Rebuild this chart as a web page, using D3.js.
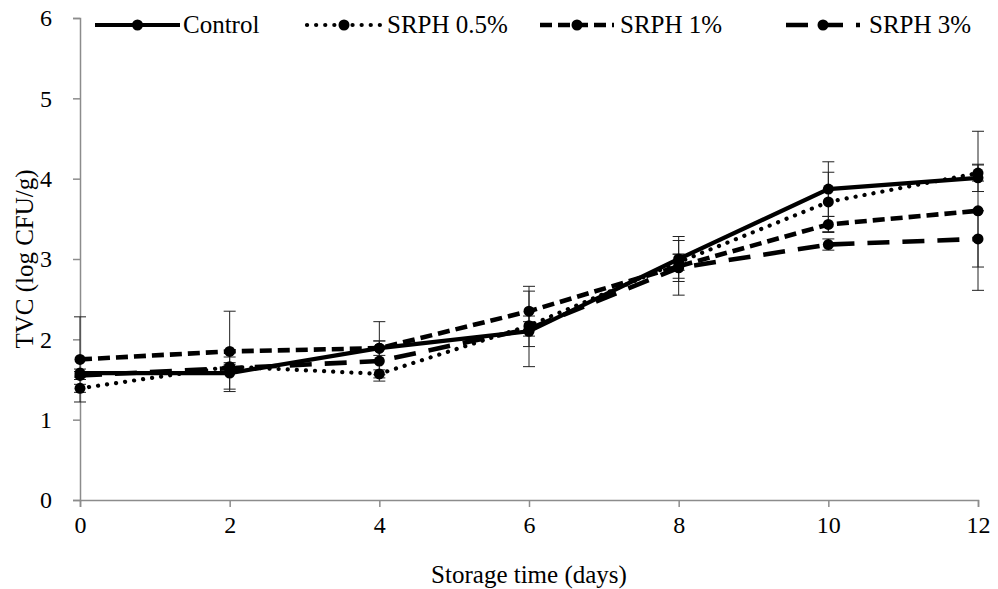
<!DOCTYPE html>
<html>
<head>
<meta charset="utf-8">
<script src="https://cdn.jsdelivr.net/npm/d3@7"></script>
<style>
body { margin: 0; background: #fff; }
svg text { font-family: "Liberation Serif", "Times New Roman", serif; fill: #000; }
</style>
</head>
<body>
<script>
// storage days on the x axis
var days = [0, 2, 4, 6, 8, 10, 12];

// TVC values (log CFU/g)
var control = [1.58, 1.58, 1.89, 2.10, 3.00, 3.87, 4.01];
var srph05 = [1.39, 1.66, 1.57, 2.17, 2.96, 3.71, 4.07];
var srph1 = [1.75, 1.85, 1.89, 2.35, 2.91, 3.43, 3.60];
var srph3 = [1.55, 1.64, 1.73, 2.13, 2.89, 3.18, 3.25];

// error bar half widths
var errControl = [0.05, 0.20, 0.33, 0.19, 0.28, 0.34, 0.17];
var err05 = [0.05, 0.05, 0.05, 0.05, 0.10, 0.37, 0.10];
var err1 = [0.53, 0.50, 0.09, 0.31, 0.15, 0.10, 0.99];
var err3 = [0.05, 0.05, 0.25, 0.47, 0.34, 0.07, 0.35];

var seriesNames = ["Control", "SRPH 0.5%", "SRPH 1%", "SRPH 3%"];
var yTicks = [0, 1, 2, 3, 4, 5, 6];
var xTicks = [0, 2, 4, 6, 8, 10, 12];

var w = 998, h = 589;
var padL = 80, padR = 978, padT = 18, padB = 500; // plot edges in px

var dashes = ["none", "0.1,9", "12,6", "22,13"]; // line style per series
var widths = [4.2, 4.2, 4.6, 4.6];
var serif = "Liberation Serif";

var xScale = d3.scaleLinear().domain([0, 12]).range([padL, padR]);
var yScale = d3.scaleLinear().domain([0, 6]).range([padB, padT]);

var svg = d3.select("body").append("svg")
	.attr("width", w)
	.attr("height", h);

//axes
var yAxis = d3.axisLeft(yScale).tickValues(yTicks).tickSize(7).tickPadding(21).tickFormat(d3.format("d"));
var gy = svg.append("g")
	.attr("transform", "translate(" + padL + ",0)")
	.call(yAxis);

var xAxis = d3.axisBottom(xScale).tickValues(xTicks).tickSize(7).tickPadding(9).tickFormat(d3.format("d"));
var gx = svg.append("g")
	.attr("transform", "translate(0," + padB + ")")
	.call(xAxis);

[gx, gy].forEach(function(g) {
	g.attr("font-family", serif).attr("font-size", 24);
	g.select(".domain").attr("stroke", "#8c8c8c").attr("stroke-width", 1.5);
	g.selectAll(".tick line").attr("stroke", "#8c8c8c").attr("stroke-width", 1.5);
	g.selectAll(".tick text").attr("fill", "#000");
});

//axis titles
svg.append("text")
	.text("Storage time (days)")
	.attr("x", (padL + padR) / 2)
	.attr("y", 583)
	.attr("text-anchor", "middle")
	.attr("font-family", serif)
	.attr("font-size", "25px");

svg.append("text")
	.text("TVC (log CFU/g)")
	.attr("transform", "translate(33," + ((padT + padB) / 2) + ") rotate(-90)")
	.attr("text-anchor", "middle")
	.attr("font-family", serif)
	.attr("font-size", "25px");

var allSeries = [control, srph05, srph1, srph3];
var allErr = [errControl, err05, err1, err3];

//error bars first so the lines sit on top
allSeries.forEach(function(vals, s) {
	var g = svg.append("g");
	days.forEach(function(d, i) {
		var x = xScale(d);
		var y1 = yScale(vals[i] - allErr[s][i]);
		var y2 = yScale(vals[i] + allErr[s][i]);
		g.append("line").attr("x1", x).attr("x2", x).attr("y1", y1).attr("y2", y2)
			.attr("stroke", "#222").attr("stroke-width", 1);
		[y1, y2].forEach(function(yy) {
			g.append("line").attr("x1", x - 6).attr("x2", x + 6).attr("y1", yy).attr("y2", yy)
				.attr("stroke", "#222").attr("stroke-width", 1);
		});
	});
});

var line = d3.line()
	.x(function(d) { return xScale(d[0]); })
	.y(function(d) { return yScale(d[1]); });

//draw series from back to front
[3, 2, 1, 0].forEach(function(s) {
	var pts = days.map(function(d, i) { return [d, allSeries[s][i]]; });
	svg.append("path")
		.datum(pts)
		.attr("d", line)
		.attr("fill", "none")
		.attr("stroke", "#000")
		.attr("stroke-width", widths[s])
		.attr("stroke-linecap", s == 1 ? "round" : "butt")
		.attr("stroke-dasharray", dashes[s]);
	svg.selectAll(null)
		.data(pts)
		.enter()
		.append("circle")
		.attr("cx", function(d) { return xScale(d[0]); })
		.attr("cy", function(d) { return yScale(d[1]); })
		.attr("r", 5.5)
		.attr("fill", "#000");
});

//legend
var legX = [95, 307, 540, 786];
var legLen = [85, 74, 74, 74];
var legGap = [3, 6, 6, 9];
var legY = 25;
seriesNames.forEach(function(name, s) {
	var x0 = legX[s];
	var x1 = x0 + legLen[s];
	svg.append("line")
		.attr("x1", x0).attr("x2", x1).attr("y1", legY).attr("y2", legY)
		.attr("stroke", "#000")
		.attr("stroke-width", widths[s])
		.attr("stroke-linecap", s == 1 ? "round" : "butt")
		.attr("stroke-dasharray", dashes[s]);
	svg.append("circle")
		.attr("cx", (x0 + x1) / 2).attr("cy", legY).attr("r", 5.5).attr("fill", "#000");
	svg.append("text")
		.text(name)
		.attr("x", x1 + legGap[s])
		.attr("y", legY + 8)
		.attr("font-family", serif)
		.attr("font-size", "25px");
});
</script>
</body>
</html>
